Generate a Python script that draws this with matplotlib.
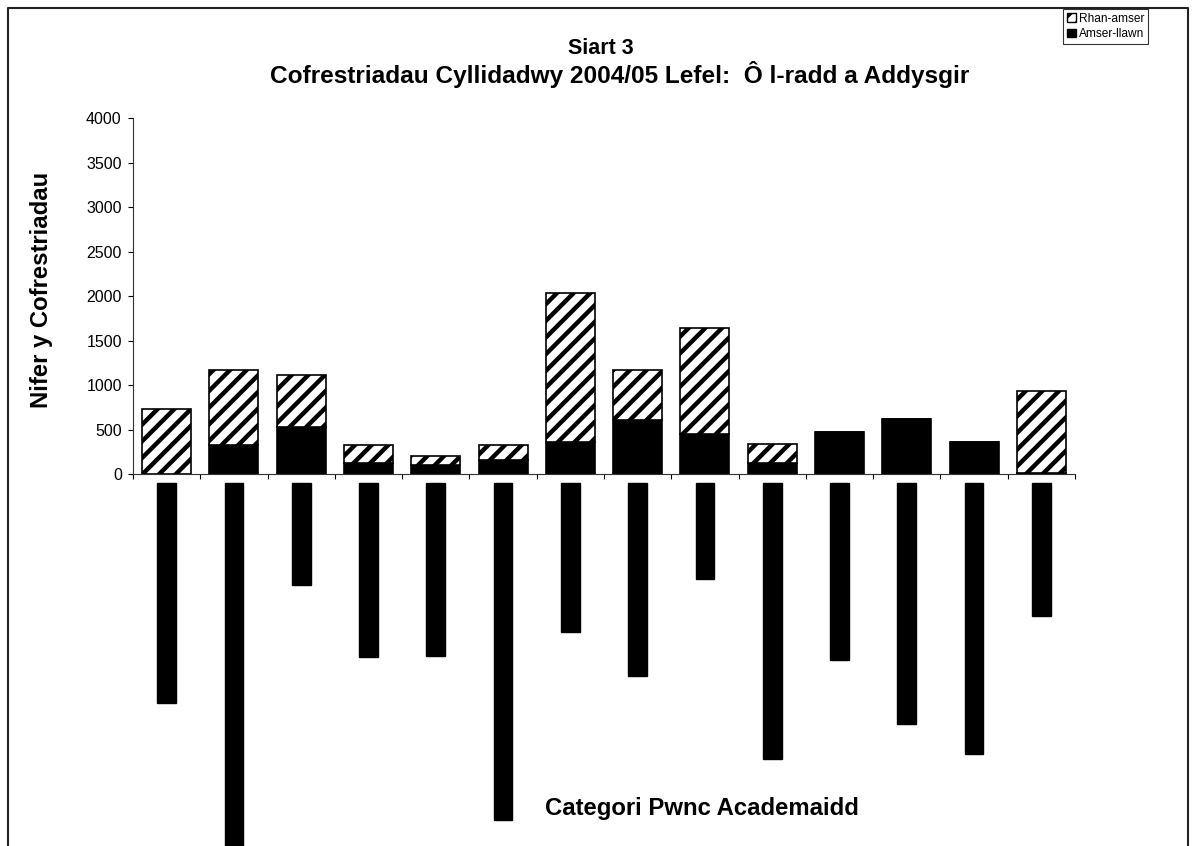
import matplotlib
matplotlib.use("Agg")
import matplotlib.pyplot as plt
from matplotlib.patches import Patch
from matplotlib.lines import Line2D
import numpy as np

plt.rcParams['font.family'] = ['Liberation Sans', 'DejaVu Sans']
plt.rcParams['hatch.linewidth'] = 3.2

categories = [
    "Pynciau Perthynol i Feddygaeth",
    "Gwyddorau Mathemategol, Technoleg Gwybodaeth a Chyfrifiadura",
    "Gwyddoniaeth",
    "Peirianneg a Thechnoleg",
    "Yr Amgylchedd Adeiledig",
    "Celf, Dylunio, Cerddoriaeth, Drama a'r Cyfryngau",
    "Astudiaethau Busnes",
    "Y Gwyddorau Cymdeithasol",
    "Y Dyniaethau",
    "Ieithoedd Tramor ac Astudiaethau Celtig",
    "Nyrsio a Phynciau Iechyd",
    "Hyfforddiant Cychwynnol Athrawon",
    "Meddygaeth Glinigol a Gwyddor Iechyd",
    "Addysg Gyffredinol",
]
full_time = [0, 325, 530, 120, 100, 160, 360, 610, 450, 125, 470, 620, 360, 15]
part_time = [730, 845, 580, 205, 100, 165, 1670, 560, 1190, 215, 0, 0, 0, 920]
yticks = [0, 500, 1000, 1500, 2000, 2500, 3000, 3500, 4000]

W, H = 1196, 846
fig = plt.figure(figsize=(W / 100, H / 100), dpi=100)
ax = fig.add_axes([133 / W, 1 - 474 / H, (1075 - 133) / W, (474 - 118) / H])

x = np.arange(len(categories))
bw = 0.73
ax.bar(x, full_time, bw, color='black', edgecolor='black', linewidth=1.2, zorder=2)
ax.bar(x, part_time, bw, bottom=full_time, color='white', edgecolor='black',
       hatch='//', linewidth=1.2, zorder=2)

ax.set_xlim(-0.5, len(categories) - 0.5)
ax.set_ylim(0, 4000)
ax.set_yticks(yticks)
ax.set_yticklabels([str(v) for v in yticks])
for s in ['top', 'right']:
    ax.spines[s].set_visible(False)
for s in ['left', 'bottom']:
    ax.spines[s].set_linewidth(0.8)
    ax.spines[s].set_color('#333333')
ax.tick_params(axis='y', direction='out', length=3.6, width=0.8, labelsize=11.5, pad=4.5)

ax.set_xticks(x)
ax.set_xticks(np.arange(len(categories) + 1) - 0.5, minor=True)
ax.tick_params(axis='x', which='major', length=0, pad=8.2)
ax.tick_params(axis='x', which='minor', direction='out', length=3.6, width=0.8)
ax.set_xticklabels(categories, rotation=270, ha='center', va='top', fontsize=11,
                   color='black')
for lbl in ax.get_xticklabels():
    lbl.set_bbox(dict(boxstyle='square,pad=0.15', facecolor='black', edgecolor='black'))

fig.text(601 / W, 1 - 48 / H, "Siart 3", ha='center', va='center',
         fontsize=15.5, fontweight='bold')
fig.text(620 / W, 1 - 74 / H, "Cofrestriadau Cyllidadwy 2004/05 Lefel:  Ô l-radd a Addysgir",
         ha='center', va='center', fontsize=17.6, fontweight='bold')
fig.text(42 / W, 1 - 290 / H, "Nifer y Cofrestriadau", rotation=90, ha='center',
         va='center', fontsize=17.2, fontweight='bold')
fig.text(702 / W, 1 - 808 / H, "Categori Pwnc Academaidd", ha='center', va='center',
         fontsize=17.2, fontweight='bold')

handles = [Patch(facecolor='white', edgecolor='black', hatch='//', label='Rhan-amser'),
           Patch(facecolor='black', edgecolor='black', label='Amser-llawn')]
leg = fig.legend(handles=handles, loc='upper left', bbox_to_anchor=(1063 / W, 1 - 9 / H),
                 fontsize=8.6, frameon=True, fancybox=False, borderpad=0.3,
                 labelspacing=0.3, handlelength=0.75, handleheight=0.75,
                 handletextpad=0.3, borderaxespad=0)
leg.get_frame().set_edgecolor('black')
leg.get_frame().set_linewidth(0.8)

fig.add_artist(Line2D([8 / W, 8 / W, 1188 / W, 1188 / W], [-0.01, 1 - 8 / H, 1 - 8 / H, -0.01],
                      transform=fig.transFigure, color='#222222', linewidth=1.5))

fig.savefig("out.png", dpi=100)
